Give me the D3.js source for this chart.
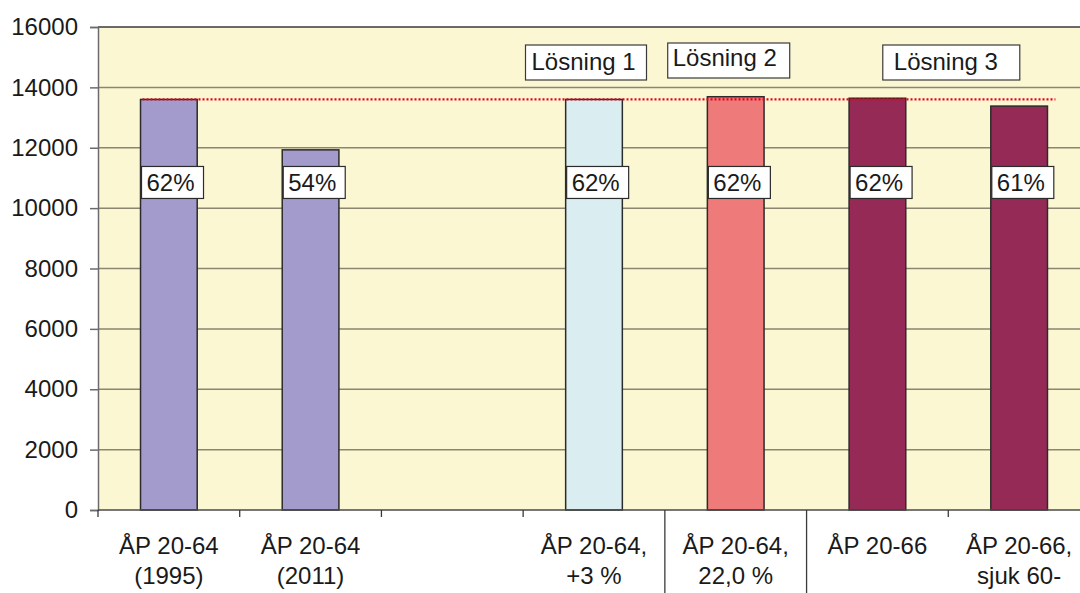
<!DOCTYPE html>
<html>
<head>
<meta charset="utf-8">
<script src="https://cdn.jsdelivr.net/npm/d3@7"></script>
<style>
  html, body { margin: 0; padding: 0; background: #ffffff; }
  svg { display: block; font-family: Arial, "Liberation Sans", sans-serif; }
</style>
</head>
<body>
<div id="chart"></div>
<script>
// Category labels (two lines each); the third slot is an empty gap
const categories = [
  ["ÅP 20-64", "(1995)"],
  ["ÅP 20-64", "(2011)"],
  ["", ""],
  ["ÅP 20-64,", "+3 %"],
  ["ÅP 20-64,", "22,0 %"],
  ["ÅP 20-66", ""],
  ["ÅP 20-66,", "sjuk 60-"]
];
const values = [13600, 11930, null, 13600, 13690, 13640, 13380];
const shareLabels = ["62%", "54%", null, "62%", "62%", "62%", "61%"];
const barColors = ["#A29BCB", "#A29BCB", null, "#DAEDF1", "#EE7B79", "#962A56", "#962A56"];
const referenceLevel = 13600;
const yTicks = [0, 2000, 4000, 6000, 8000, 10000, 12000, 14000, 16000];
const groupLabels = ["Lösning 1", "Lösning 2", "Lösning 3"];

const W = 1080, H = 593;
const margin = { left: 98, top: 27, bottom: 83 };
const plotRight = 1090; // plot area runs slightly past the page edge
const FS = 24;

const svg = d3.select("#chart").append("svg")
  .attr("width", W).attr("height", H);

const x = d3.scaleBand()
  .domain(d3.range(categories.length))
  .range([margin.left, plotRight])
  .paddingInner(0.6)
  .paddingOuter(0.3);
const step = x.step();
const slotLeft = i => margin.left + i * step;

const y = d3.scaleLinear()
  .domain([0, 16000])
  .range([H - margin.bottom, margin.top]);

// plot background
svg.append("rect")
  .attr("x", margin.left).attr("y", y(16000))
  .attr("width", plotRight - margin.left).attr("height", y(0) - y(16000))
  .attr("fill", "#FCF7D3");

// horizontal gridlines
svg.append("g").selectAll("line")
  .data(yTicks.filter(d => d > 0))
  .join("line")
  .attr("x1", margin.left).attr("x2", plotRight)
  .attr("y1", d => y(d)).attr("y2", d => y(d))
  .attr("stroke", d => d === 16000 ? "#3a3a3a" : "#8A8670")
  .attr("stroke-width", 1.5);

// y axis
const yAxis = d3.axisLeft(y).tickValues(yTicks).tickSize(8).tickPadding(12)
  .tickFormat(d3.format("d"));
const gy = svg.append("g").attr("transform", `translate(${margin.left},0)`).call(yAxis);
gy.select(".domain").attr("stroke", "#6b6b6b").attr("stroke-width", 1.5);
gy.selectAll(".tick line").attr("stroke", "#6b6b6b").attr("stroke-width", 1.5);
gy.selectAll(".tick text")
  .style("font-size", FS + "px")
  .style("font-family", "Arial, 'Liberation Sans', sans-serif")
  .attr("fill", "#1a1a1a");

// bars
const barData = values.map((v, i) => ({ i, v, c: barColors[i] })).filter(d => d.v != null);
svg.append("g").selectAll("rect")
  .data(barData)
  .join("rect")
  .attr("x", d => x(d.i)).attr("width", x.bandwidth())
  .attr("y", d => y(d.v)).attr("height", d => y(0) - y(d.v))
  .attr("fill", d => d.c)
  .attr("stroke", "#2b2b2b").attr("stroke-width", 1.5);

// x axis baseline and category ticks
svg.append("line")
  .attr("x1", margin.left).attr("x2", plotRight)
  .attr("y1", y(0)).attr("y2", y(0))
  .attr("stroke", "#4a4a4a").attr("stroke-width", 1.5);
const separators = new Set([4, 5]);
svg.append("g").selectAll("line")
  .data(d3.range(categories.length + 1))
  .join("line")
  .attr("x1", d => slotLeft(d)).attr("x2", d => slotLeft(d))
  .attr("y1", y(0))
  .attr("y2", d => separators.has(d) ? H : y(0) + 7)
  .attr("stroke", "#3a3a3a").attr("stroke-width", 1.3);

// category labels
const catG = svg.append("g").selectAll("text")
  .data(categories)
  .join("text")
  .attr("text-anchor", "middle")
  .attr("font-size", FS).attr("fill", "#1a1a1a");
catG.each(function (lines, i) {
  const t = d3.select(this);
  lines.forEach((ln, k) => {
    t.append("tspan")
      .attr("x", x(i) + x.bandwidth() / 2)
      .attr("y", y(0) + 44 + k * 30)
      .text(ln);
  });
});

// reference level (dotted)
svg.append("line")
  .attr("x1", x(0) + 2)
  .attr("x2", x(6) + x.bandwidth() * 1.14)
  .attr("y1", y(referenceLevel)).attr("y2", y(referenceLevel))
  .attr("stroke", "#E8001C").attr("stroke-width", 2.2)
  .attr("stroke-dasharray", "2,2");

// share labels on bars
const labelLevel = 10850;
const lab = svg.append("g").selectAll("g")
  .data(shareLabels.map((s, i) => ({ s, i })).filter(d => d.s))
  .join("g")
  .attr("transform", d => `translate(${x(d.i) + 1},${y(labelLevel)})`);
lab.append("rect")
  .attr("x", 0).attr("y", -16).attr("width", 62).attr("height", 32)
  .attr("fill", "#ffffff").attr("stroke", "#2b2b2b").attr("stroke-width", 1.2);
lab.append("text")
  .attr("x", 5).attr("y", 9)
  .attr("font-size", FS).attr("fill", "#1a1a1a")
  .text(d => d.s);

// solution annotations above the bars
const annPos = [
  { cx: x(3) + x.bandwidth() / 2 - 8, w: 121, top: 45, tx: 6 },
  { cx: x(4) + x.bandwidth() / 2 - 7, w: 122, top: 43, tx: 5 },
  { cx: slotLeft(6) + 3, w: 137, top: 45, tx: 11 }
];
const ann = svg.append("g").selectAll("g")
  .data(groupLabels.map((t, k) => ({ t, p: annPos[k] })))
  .join("g")
  .attr("transform", d => `translate(${d.p.cx - d.p.w / 2},${d.p.top})`);
ann.append("rect")
  .attr("width", d => d.p.w).attr("height", 35)
  .attr("fill", "#ffffff").attr("stroke", "#3a3a3a").attr("stroke-width", 1.2);
ann.append("text")
  .attr("x", d => d.p.tx).attr("y", (d, k) => k === 1 ? 23 : 25)
  .attr("font-size", FS).attr("fill", "#1a1a1a")
  .text(d => d.t);
</script>
</body>
</html>
